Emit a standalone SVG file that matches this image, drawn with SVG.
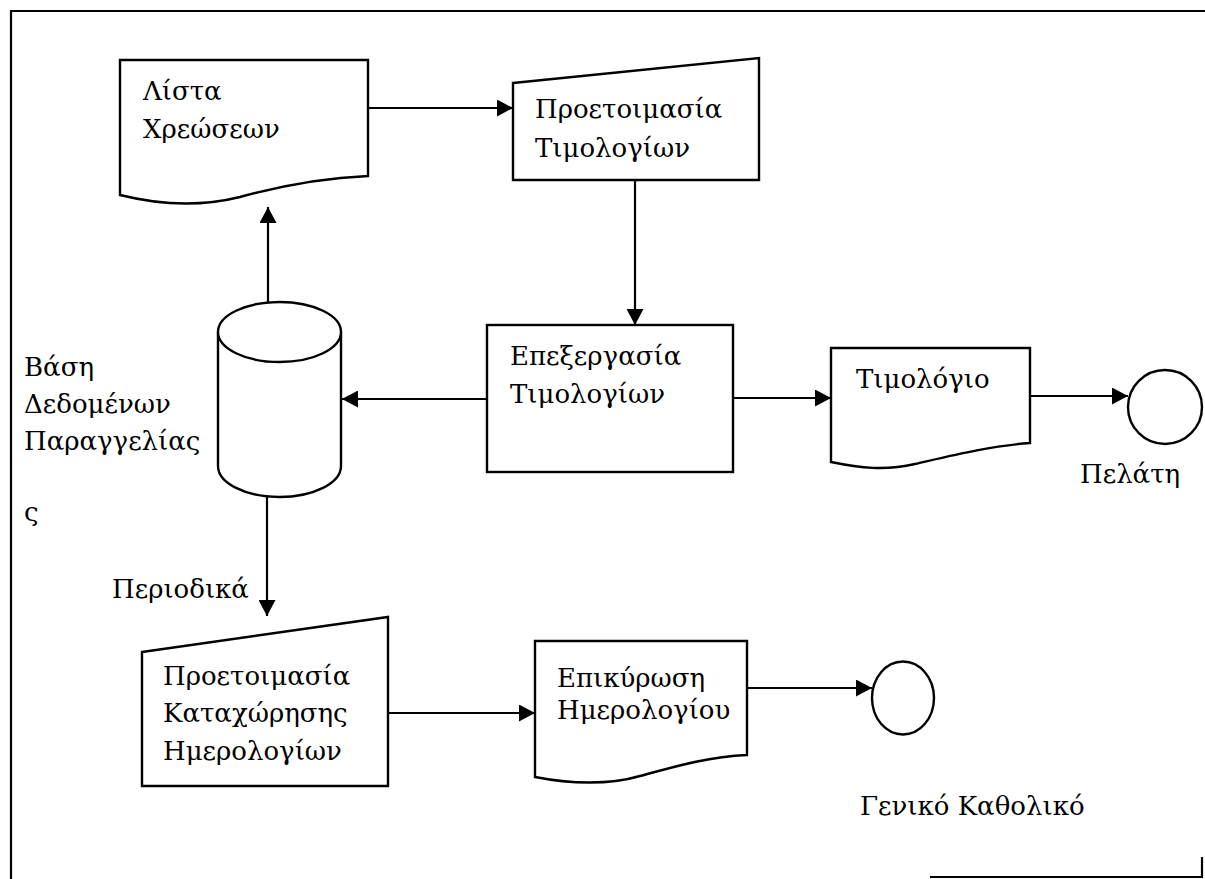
<svg xmlns="http://www.w3.org/2000/svg" width="1205" height="879" viewBox="0 0 1205 879">
  <defs>
    <marker id="arrow" markerUnits="userSpaceOnUse" markerWidth="16" markerHeight="17" refX="16" refY="8.5" orient="auto">
      <path d="M0,0 L16,8.5 L0,17 Z" fill="#000"/>
    </marker>
  </defs>
  <style>
    .shape { fill: #fff; stroke: #000; stroke-width: 2.4; }
    .line { fill: none; stroke: #000; stroke-width: 2.2; }
    .edge { fill: none; stroke: #000; stroke-width: 2.2; marker-end: url(#arrow); }
    text { font-size: 26px; fill: #000; }
  </style>
  <rect width="1205" height="879" fill="#fff"/>

  <!-- page frame -->
  <g id="frame">
    <path class="line" d="M11,879 V11 H1205"/>
    <path class="line" d="M930,877 H1202 V857"/>
  </g>

  <!-- connectors -->
  <g id="connectors">
    <path class="edge" d="M368,108 H513"/>
    <path class="edge" d="M635,180 V325"/>
    <path class="edge" d="M487,399 H342"/>
    <path class="edge" d="M268,303 V207"/>
    <path class="edge" d="M733,398 H831"/>
    <path class="edge" d="M1030,396 H1128"/>
    <path class="edge" d="M267,497 V616"/>
    <path class="edge" d="M388,713 H535"/>
    <path class="edge" d="M747,688 H872"/>
  </g>

  <!-- document: charges list -->
  <g id="lista-xreoseon" font-family="DejaVu Serif">
    <path class="shape" d="M120,60 H368 V176 C320,178 280,186 240,197 C200,207 160,205 120,195 Z"/>
    <text x="143" y="100">Λίστα</text>
    <text x="143" y="138">Χρεώσεων</text>
  </g>

  <!-- manual operation: invoice preparation -->
  <g id="proetoimasia-timologion" font-family="DejaVu Serif">
    <path class="shape" d="M513,83 L759,58 V180 H513 Z"/>
    <text x="535" y="118">Προετοιμασία</text>
    <text x="535" y="157">Τιμολογίων</text>
  </g>

  <!-- process: invoice processing -->
  <g id="epexergasia-timologion" font-family="DejaVu Serif">
    <rect class="shape" x="487" y="325" width="246" height="147"/>
    <text x="510" y="365">Επεξεργασία</text>
    <text x="510" y="403">Τιμολογίων</text>
  </g>

  <!-- database cylinder -->
  <g id="vasi-dedomenon" font-family="DejaVu Serif">
    <path class="shape" d="M218,332 V466 A61.5,31 0 0 0 341,466 V332"/>
    <ellipse class="shape" cx="279.5" cy="332" rx="61.5" ry="30"/>
    <text x="24" y="376">Βάση</text>
    <text x="24" y="413">Δεδομένων</text>
    <text x="24" y="450">Παραγγελίας</text>
    <text x="24" y="521">ς</text>
  </g>

  <!-- document: invoice -->
  <g id="timologio" font-family="DejaVu Serif">
    <path class="shape" d="M831,348 H1030 V443 C990,446 950,456 915,464 C885,471 860,468 831,462 Z"/>
    <text x="856" y="388">Τιμολόγιο</text>
  </g>

  <!-- terminator: customer -->
  <g id="pelati" font-family="DejaVu Serif">
    <circle class="shape" cx="1165" cy="407" r="37"/>
    <text x="1080" y="483">Πελάτη</text>
  </g>

  <!-- label on the periodic flow -->
  <g id="periodika" font-family="DejaVu Serif">
    <text x="112" y="598">Περιοδικά</text>
  </g>

  <!-- manual operation: journal entry preparation -->
  <g id="proetoimasia-kataxorisis" font-family="DejaVu Serif">
    <path class="shape" d="M142,652 L388,617 V786 H142 Z"/>
    <text x="163" y="685">Προετοιμασία</text>
    <text x="163" y="722">Καταχώρησης</text>
    <text x="163" y="760">Ημερολογίων</text>
  </g>

  <!-- document: journal validation -->
  <g id="epikyrosi-imerologiou" font-family="DejaVu Serif">
    <path class="shape" d="M535,641 H747 V755 C705,757 670,768 640,776 C610,785 570,784 535,777 Z"/>
    <text x="557" y="687">Επικύρωση</text>
    <text x="557" y="719">Ημερολογίου</text>
  </g>

  <!-- terminator: general ledger -->
  <g id="geniko-katholiko" font-family="DejaVu Serif">
    <ellipse class="shape" cx="903" cy="698" rx="31" ry="36.5"/>
    <text x="860" y="815">Γενικό Καθολικό</text>
  </g>
</svg>
